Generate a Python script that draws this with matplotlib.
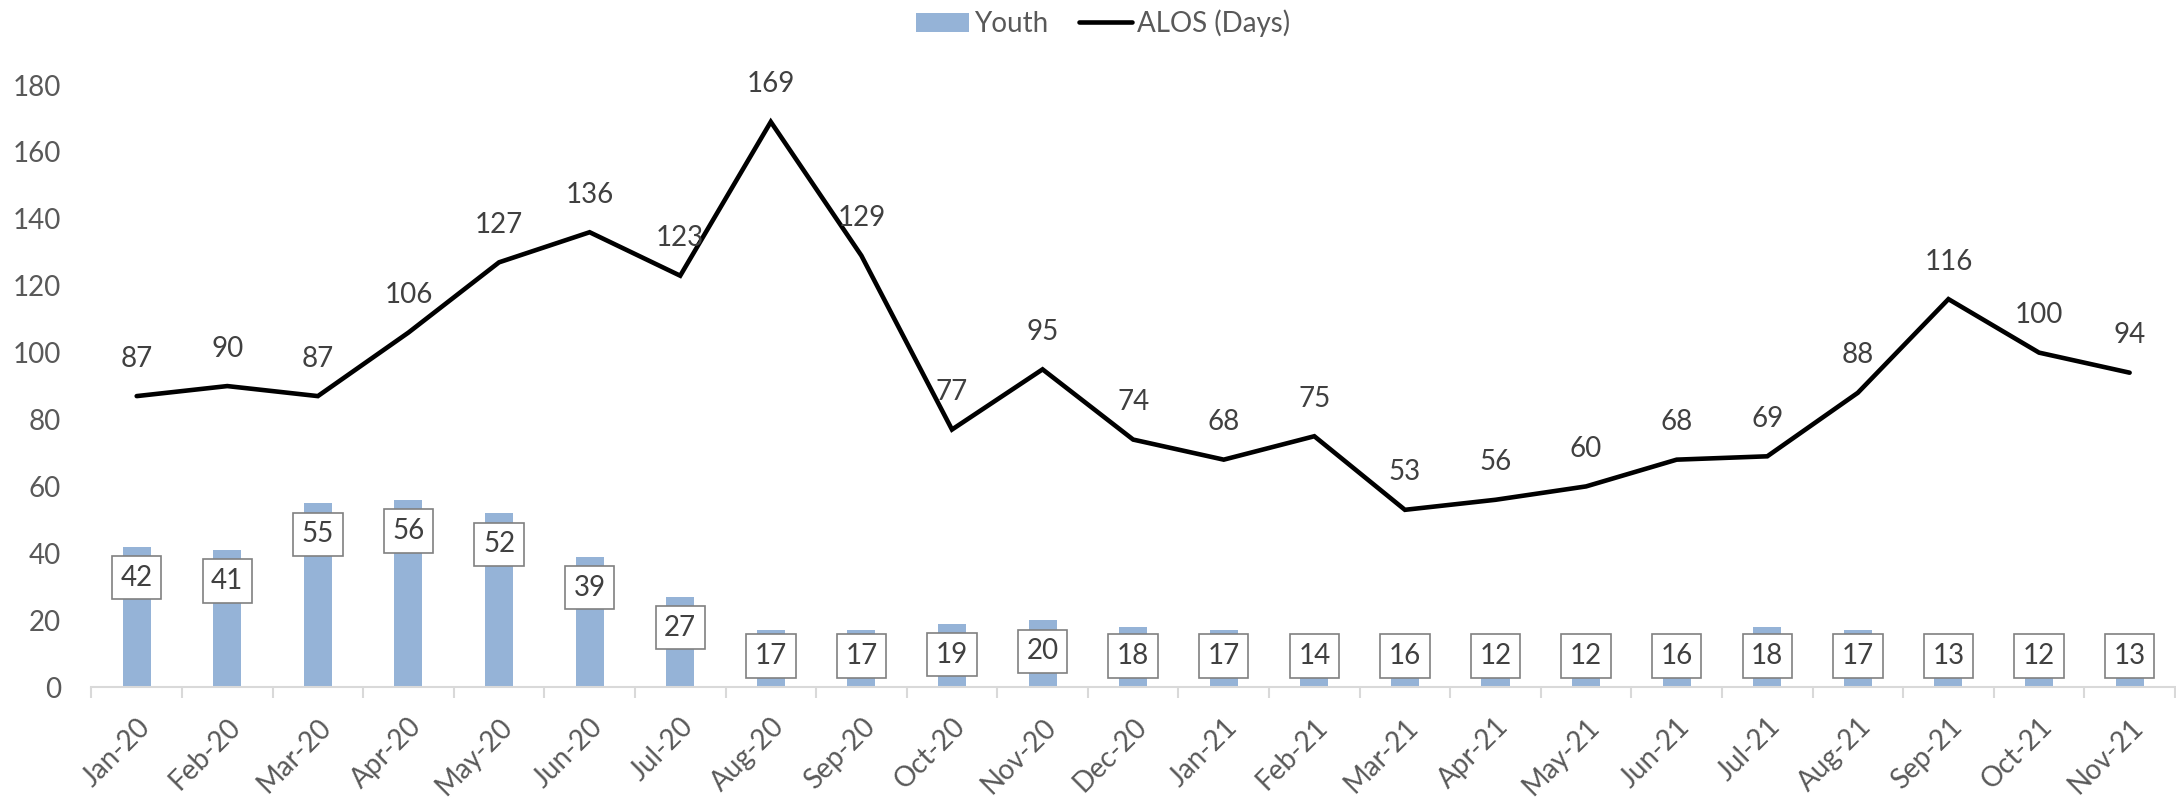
import numpy as np
import matplotlib.pyplot as plt

months = ['Jan-20', 'Feb-20', 'Mar-20', 'Apr-20', 'May-20', 'Jun-20', 'Jul-20',
          'Aug-20', 'Sep-20', 'Oct-20', 'Nov-20', 'Dec-20', 'Jan-21', 'Feb-21',
          'Mar-21', 'Apr-21', 'May-21', 'Jun-21', 'Jul-21', 'Aug-21', 'Sep-21',
          'Oct-21', 'Nov-21']
youth = [42, 41, 55, 56, 52, 39, 27, 17, 17, 19, 20, 18, 17, 14, 16, 12, 12, 16,
         18, 17, 13, 12, 13]
alos = [87, 90, 87, 106, 127, 136, 123, 169, 129, 77, 95, 74, 68, 75, 53, 56, 60,
        68, 69, 88, 116, 100, 94]

plt.rcParams['font.family'] = ['Lato', 'DejaVu Sans']
text_col = '#404040'
tick_col = '#595959'
fs = 20

fig = plt.figure(figsize=(21.76, 7.98), dpi=100)
ax = fig.add_axes([0.042, 0.139, 0.9575, 0.7544])

x = np.arange(len(months))
bars = ax.bar(x, youth, width=0.31, color='#95B3D7', label='Youth', zorder=2)
line, = ax.plot(x, alos, color='black', linewidth=3.3, solid_capstyle='round',
                solid_joinstyle='miter', label='ALOS (Days)', zorder=3)

# line labels above the points
for xi, v in zip(x, alos):
    ax.annotate(str(v), (xi, v), xytext=(0, 27), textcoords='offset points',
                ha='center', va='center', fontsize=fs, color=text_col, zorder=4)

# bar labels in boxes, inside end (kept above the base for short bars)
for xi, v in zip(x, youth):
    yc = max(v - 9.3, 9.3)
    ax.text(xi, yc, str(v), ha='center', va='center', fontsize=fs, color=text_col,
            zorder=5,
            bbox=dict(boxstyle='square,pad=0.31', fc='white', ec='#808080', lw=1.2))

ax.set_xlim(-0.5, len(months) - 0.5)
ax.set_ylim(0, 180)
ax.set_yticks(range(0, 181, 20))
ax.tick_params(axis='y', length=0, labelsize=fs, labelcolor=tick_col, pad=22)

ax.set_xticks(x)
ax.set_xticklabels(months, rotation=45, ha='right', rotation_mode='anchor')
ax.tick_params(axis='x', which='major', length=0, labelsize=fs,
               labelcolor=tick_col, pad=19)
ax.set_xticks(np.arange(-0.5, len(months)), minor=True)
ax.tick_params(axis='x', which='minor', length=8, width=1.5, color='#D9D9D9')

for s in ['top', 'right', 'left']:
    ax.spines[s].set_visible(False)
ax.spines['bottom'].set_color('#D9D9D9')
ax.spines['bottom'].set_linewidth(1.5)

fig.legend([bars, line], ['Youth', 'ALOS (Days)'], loc='center',
           bbox_to_anchor=(0.507, 0.971), ncol=2, frameon=False,
           fontsize=fs, labelcolor=tick_col, handlelength=1.9, handletextpad=0.2,
           columnspacing=1.1)

fig.savefig('out.png', dpi=100)
